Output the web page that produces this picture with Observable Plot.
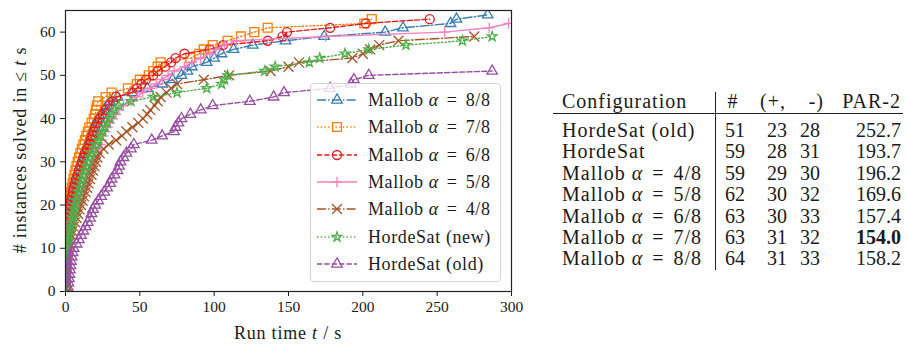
<!DOCTYPE html>
<html><head><meta charset="utf-8">
<script src="https://cdn.jsdelivr.net/npm/d3@7"></script>
<script src="https://cdn.jsdelivr.net/npm/@observablehq/plot@0.6"></script>
<style>
body{margin:0;background:#fff;font-family:'Liberation Serif';}
#wrap{position:relative;width:907px;height:345px;font-family:'Liberation Serif';color:#1a1a1a;overflow:hidden;}
#wrap svg{position:absolute;left:0;top:0;}
.abs{position:absolute;white-space:nowrap;}
.lg{position:absolute;left:310px;top:83px;width:191px;height:199px;box-sizing:border-box;border:1px solid #d3d3d3;border-radius:4px;background:rgba(255,255,255,0.8);}
.lgrow{position:absolute;left:0;width:188px;height:24px;line-height:24px;font-size:18px;letter-spacing:0.6px;white-space:nowrap;}
.cell{position:absolute;height:22px;line-height:22px;font-size:20px;letter-spacing:1px;white-space:nowrap;}
.num{letter-spacing:0;}
.eq{margin:0 3px;}
</style></head><body><div id="wrap"></div>
<script>
// ---- data ----
const seriesNames = ["Mallob α = 8/8","Mallob α = 7/8","Mallob α = 6/8","Mallob α = 5/8","Mallob α = 4/8","HordeSat (new)","HordeSat (old)"];
// run time (s) at which the k-th instance was solved (k = 1..N)
const tMallob88 = [0.1,0.15,0.2,0.25,0.3,0.35,0.4,0.45,0.5,0.6,0.7,0.8,1.0,
 1.2,1.6,2,2.4,2.8,3.2,3.7,4.2,4.8,5.4, 6,6.7,7.4,8.2,9,10,11,12,13,14, 15,16,17,18,19,20.5,22,24,26,28,
 30,35,45,55,65,72,78,82,85,95, 100,105,113,126,148,174,215,227,259,263, 284];
const tMallob78 = [0.1,0.15,0.2,0.25,0.3,0.35,0.4,0.45,0.5,0.55,0.6,0.65,0.7,0.8,0.9,1.0,1.1,
 1.2,1.7,2.2,2.7,3.2,3.7,4.2,4.8,5.4,6, 6.7,7.4,8.2,9,10,11,12,13,14,15, 16,17.5,19,20,20.5,21,22,27,31,42,
 48,50,56,59,62,64,84,90,93,99, 109,118,127,136,201,206];
const tMallob68 = [0.1,0.15,0.2,0.25,0.3,0.35,0.4,0.45,0.5,0.6,0.7,0.8,0.9,1.0,
 1.2,1.6,2,2.4,2.8,3.2,3.6,4.2,4.8,5.4, 6.2,7,8,9,10,11,12,13,14.5,16, 17,18,19,20,21.5,23,25,27,29.5,32,
 34,45,48,51,54,59,62,67,71,74, 80,97,106,136,146,149,178,202,245];
const tMallob58 = [0.1,0.15,0.2,0.25,0.3,0.4,0.5,0.6,0.8,
 1,1.5,2,2.5,3,3.5,4,5,6,7, 8,9,10,11,12,13,14,15,16.5,18, 19.5,20.5,21.5,22.5,23.5,24.5,25.5,27,28.5,30,
 32,34,36,39,44,48,52,57,61,65, 69,73,80,85,91,97,101,107,115,175, 255,285,298];
const tMallob48 = [0.1,0.15,0.2,0.3,0.4,0.5,0.6,0.8,1.0,
 1.3,2,3,3.8,4.6,5.5,6.5,7.5,8.5,9.5, 10.5,11.5,12.5,13.5,14.5,15.5,16.5,17.5,18.5,19.5, 20.5,21.5,23,25.5,29,34,38,41,45,49,
 52,55,57,60,62,64,68,71,75,93, 110,138,150,157,193,200,205,211,224,275];
const tHordeNew = [0.3,0.5,0.6,0.7,0.8,0.9,1.0,1.1,1.2,
 1.3,1.6,2,2.5,3,3.5,4,4.6,5.2,5.8, 6.4,7,7.8,8.6,9.4,10.2,11,12,13,14, 15,16,17.5,19,20.5,22,23.5,25,26.5,28,
 29.5,31,33,36,44,59,75,95,105,107, 109,134,141,164,171,188,204,229,267,287];
const tHordeOld = [1.5,2,2.3,2.6,3,3.3,3.7,4.2,4.8,5.5, 7.5,9,10.5,12,13.5,15,16.5,17.5,18.5,20,
 22,24,26,28,30,31,33,35,36,37, 39,41,44,46,58,65,73,74,76,78, 84,91,99,124,140,147,178,192,194,204, 287];
const seriesTimes = [tMallob88,tMallob78,tMallob68,tMallob58,tMallob48,tHordeNew,tHordeOld];
const xTicks = [0,50,100,150,200,250,300];
const yTicks = [0,10,20,30,40,50,60];

// table
const tableHeader = ["Configuration","#","(+,","-)","PAR-2"];
const tableConfigs = ["HordeSat (old)","HordeSat","Mallob α = 4/8","Mallob α = 5/8","Mallob α = 6/8","Mallob α = 7/8","Mallob α = 8/8"];
const tableSolved = [51,59,59,62,63,63,64];
const tablePlus = [23,28,29,30,30,31,31];
const tableMinus = [28,31,30,32,33,32,33];
const tablePar2 = ["252.7","193.7","196.2","169.6","157.4","154.0","158.2"];

// ---- styles ----
const FONT = "'Liberation Serif'";
const colors = ["#377eb8","#ff7f00","#e41a1c","#f781bf","#a65628","#4daf4a","#984ea3"];
const symbols = ["triangle","square","circle","plus","times","star","triangle"];
const radii = [3.9,5.0,4.5,3.4,4.6,3.0,3.9];
const dashes = ["9,2.2,1.4,2.2","1.4,2.3","5.2,2.2",null,"9,2.2,1.4,2.2","1.4,2.3","5.2,2.2"];

const rows = seriesNames.flatMap((name,i)=>seriesTimes[i].map((t,k)=>({name, t, n:k+1})));

const marks = [];
seriesNames.forEach((name,i)=>{
  const d = rows.filter(r=>r.name===name);
  marks.push(Plot.line(d,{x:"t",y:"n",stroke:colors[i],strokeWidth:1.4,strokeDasharray:dashes[i]||undefined,clip:true}));
  marks.push(Plot.dot(d,{x:"t",y:"n",symbol:()=>symbols[i],r:radii[i],stroke:colors[i],fill:"none",strokeWidth:1.3,clip:true}));
});

const chart = Plot.plot({
  width:540, height:345,
  marginLeft:65, marginRight:29, marginTop:10, marginBottom:54,
  x:{domain:[0,300]},
  y:{domain:[0,65]},
  symbol:{type:"identity"},
  style:{fontSize:"15.5px",color:"#1a1a1a",background:"transparent"},
  marks:[
    ...marks,
    Plot.frame({stroke:"#222",strokeWidth:1.2}),
    Plot.axisX({ticks:xTicks,tickSize:5,tickPadding:4,label:null,fontSize:15.5}),
    Plot.axisY({ticks:yTicks,tickSize:5,tickPadding:5,label:null,fontSize:15.5})
  ]
});
const wrap = document.getElementById("wrap");
wrap.appendChild(chart);
chart.setAttribute("font-family", "Liberation Serif");

function mathify(s){ return s.replace("α","<i>α</i>").replace(" = ",'<span class="eq"> = </span>'); }

// axis labels
const yl = document.createElement("div");
yl.className="abs";
yl.style.cssText="left:20px;top:150px;font-size:18px;letter-spacing:0.8px;transform:translate(-50%,-50%) rotate(-90deg);";
yl.innerHTML="# instances solved in ≤ <i>t</i> s";
wrap.appendChild(yl);
const xl = document.createElement("div");
xl.className="abs";
xl.style.cssText="left:288px;top:333px;font-size:18px;letter-spacing:0.8px;transform:translate(-50%,-50%);";
xl.innerHTML="Run time <i>t</i> / s";
wrap.appendChild(xl);

// legend
const lg = document.createElement("div");
lg.className="lg";
wrap.appendChild(lg);
seriesNames.forEach((name,i)=>{
  const row = document.createElement("div");
  row.className="lgrow";
  const cy = 100 + i*27.3 - 83 - 1;
  row.style.top = (cy-12)+"px";
  const sym = d3.symbol(d3["symbol"+symbols[i][0].toUpperCase()+symbols[i].slice(1)], Math.PI*radii[i]*radii[i])();
  row.innerHTML = `<svg width="44" height="24" style="position:absolute;left:5px;top:0">
    <line x1="1" x2="41" y1="12" y2="12" stroke="${colors[i]}" stroke-width="1.4" ${dashes[i]?`stroke-dasharray="${dashes[i]}"`:""}/>
    <path d="${sym}" transform="translate(21,12)" fill="none" stroke="${colors[i]}" stroke-width="1.3"/>
  </svg><span style="position:absolute;left:57px;top:0">${mathify(name)}</span>`;
  lg.appendChild(row);
});

// table
function cell(text, x, cy, align, bold, num){
  const c = document.createElement("div");
  c.className = num ? "cell num" : "cell";
  c.style.top=(cy-11)+"px";
  if(align==="left") c.style.left=x+"px";
  else if(align==="right") c.style.right=(907-x)+"px";
  else { c.style.left=x+"px"; c.style.transform="translateX(-50%)"; }
  if(bold) c.style.fontWeight="bold";
  c.innerHTML=text;
  wrap.appendChild(c);
}
const headY = 101;
cell(tableHeader[0],562,headY,"left");
cell(tableHeader[1],733,headY,"center");
cell(tableHeader[2],760,headY,"left");
cell(tableHeader[3],824,headY,"right");
cell(tableHeader[4],901,headY,"right");
const minPar = d3.min(tablePar2,v=>+v);
tableConfigs.forEach((cfg,i)=>{
  const cy = 130 + i*21.4;
  cell(mathify(cfg),562,cy,"left");
  cell(String(tableSolved[i]),725,cy,"left",false,true);
  cell(String(tablePlus[i]),787,cy,"right",false,true);
  cell(String(tableMinus[i]),820,cy,"right",false,true);
  cell(tablePar2[i],901,cy,"right",+tablePar2[i]===minPar,true);
});
const hr = document.createElement("div");
hr.className="abs";
hr.style.cssText="left:553px;top:112.5px;width:350px;height:1.2px;background:#222;";
wrap.appendChild(hr);
const vr = document.createElement("div");
vr.className="abs";
vr.style.cssText="left:714.5px;top:92px;width:1.1px;height:178px;background:#222;";
wrap.appendChild(vr);

wrap.querySelectorAll("*").forEach(el=>{ el.style.setProperty("font-family", FONT, "important"); });
</script></body></html>
